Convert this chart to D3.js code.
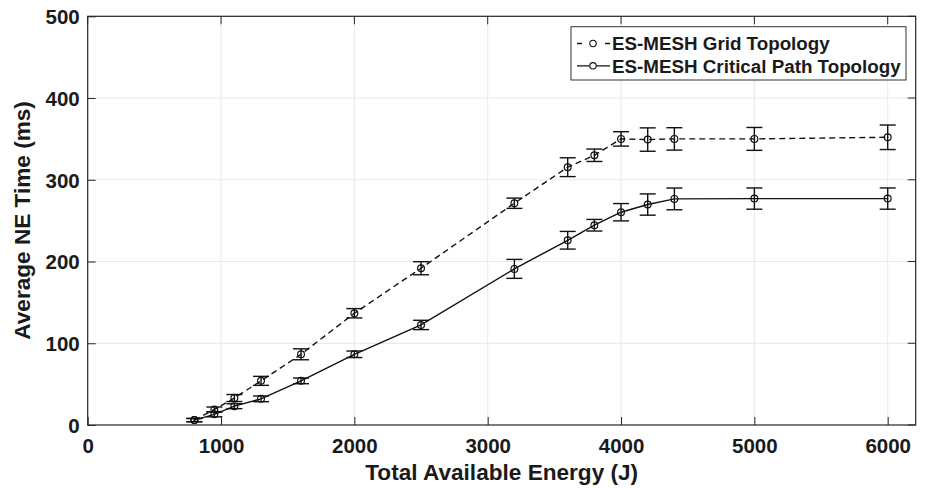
<!DOCTYPE html>
<html>
<head>
<meta charset="utf-8">
<script src="https://cdn.jsdelivr.net/npm/d3@7"></script>
<style>
  html, body { margin: 0; padding: 0; background: #fff; }
  svg { display: block; }
  text { font-family: "Liberation Sans", Arial, Helvetica, sans-serif; font-weight: bold; fill: #1a1a1a; }
</style>
</head>
<body>
<svg id="chart" width="925" height="488"></svg>
<script>
// Total available energy (J)
const energy = [800, 950, 1100, 1300, 1600, 2000, 2500, 3200, 3600, 3800, 4000, 4200, 4400, 5000, 6000];

// Average NE time (ms) and error half-widths per topology
const gridTime = [6, 19, 33, 54, 86.5, 136.7, 191.8, 271.3, 315.4, 330, 350, 349.2, 350, 350, 352];
const gridErr  = [2, 3, 4.3, 5.5, 6.7, 5.7, 8, 6.3, 11.5, 7.6, 8.8, 14.3, 13.7, 14, 15];
const critTime = [6, 13, 23, 32, 54, 86.5, 122.4, 191, 226, 244.4, 260.3, 269.7, 276.6, 277, 277];
const critErr  = [2, 3, 3, 3.5, 3.5, 4, 5.7, 11.6, 10.8, 7.1, 10.6, 13, 13.3, 13, 13];

const seriesNames = ["ES-MESH Grid Topology", "ES-MESH Critical Path Topology"];
const xTicks = [0, 1000, 2000, 3000, 4000, 5000, 6000];
const yTicks = [0, 100, 200, 300, 400, 500];

const svg = d3.select("#chart");
const m = { left: 87.7, right: 915.7, top: 16.3, bottom: 425 };

const x = d3.scaleLinear().domain([0, 6210]).range([m.left, m.right]);
const y = d3.scaleLinear().domain([0, 500]).range([m.bottom, m.top]);

const axisColor = "#262626";
const gridColor = "#e8e8e8";
const tickLen = 8;

// grid lines
const g = svg.append("g");
g.selectAll(".gx").data(xTicks.filter(d => d > 0)).join("line")
  .attr("x1", d => x(d)).attr("x2", d => x(d))
  .attr("y1", m.top).attr("y2", m.bottom)
  .attr("stroke", gridColor).attr("stroke-width", 1);
g.selectAll(".gy").data(yTicks.filter(d => d > 0 && d < 500)).join("line")
  .attr("x1", m.left).attr("x2", m.right)
  .attr("y1", d => y(d)).attr("y2", d => y(d))
  .attr("stroke", gridColor).attr("stroke-width", 1);

// axes: bottom and left with inward ticks
const xAxis = d3.axisBottom(x).tickValues(xTicks).tickSize(-tickLen).tickPadding(13).tickFormat(d3.format("d"));
const yAxis = d3.axisLeft(y).tickValues(yTicks).tickSize(-tickLen).tickPadding(8).tickFormat(d3.format("d"));

const gx = svg.append("g").attr("transform", `translate(0,${m.bottom})`).call(xAxis);
const gy = svg.append("g").attr("transform", `translate(${m.left},0)`).call(yAxis);
[gx, gy].forEach(a => {
  a.select(".domain").remove();
  a.selectAll(".tick line").attr("stroke", axisColor).attr("stroke-width", 1);
  a.selectAll(".tick text").attr("font-size", 20.5).attr("font-family", "Liberation Sans, Arial, sans-serif")
    .attr("font-weight", "bold").attr("fill", "#1a1a1a");
});
gy.selectAll(".tick text").attr("dy", "0.36em");

// top and right mirrored ticks
const tt = svg.append("g");
tt.selectAll("line.tx").data(xTicks).join("line")
  .attr("x1", d => x(d)).attr("x2", d => x(d))
  .attr("y1", m.top).attr("y2", m.top + tickLen)
  .attr("stroke", axisColor);
tt.selectAll("line.ty").data(yTicks).join("line")
  .attr("x1", m.right).attr("x2", m.right - tickLen)
  .attr("y1", d => y(d)).attr("y2", d => y(d))
  .attr("stroke", axisColor);

// frame
svg.append("rect")
  .attr("x", m.left).attr("y", m.top)
  .attr("width", m.right - m.left).attr("height", m.bottom - m.top)
  .attr("fill", "none").attr("stroke", axisColor).attr("stroke-width", 1.2);

// axis titles
svg.append("text")
  .attr("x", (m.left + m.right) / 2).attr("y", 480)
  .attr("text-anchor", "middle").attr("font-size", 22.6)
  .text("Total Available Energy (J)");
svg.append("text")
  .attr("transform", `translate(29.5,220.4) rotate(-90)`)
  .attr("text-anchor", "middle").attr("font-size", 22.6)
  .text("Average NE Time (ms)");

// series
const series = [
  { name: seriesNames[0], vals: gridTime, err: gridErr, dash: "6,4" },
  { name: seriesNames[1], vals: critTime, err: critErr, dash: null }
];

const line = d3.line().x(d => x(d.e)).y(d => y(d.v));
const capW = 8;

series.forEach(s => {
  const pts = energy.map((e, i) => ({ e, v: s.vals[i], err: s.err[i] }));
  const sg = svg.append("g");
  sg.append("path").datum(pts)
    .attr("d", line).attr("fill", "none")
    .attr("stroke", "#111").attr("stroke-width", 1.4)
    .attr("stroke-dasharray", s.dash);
  // error bars
  const eb = sg.selectAll("g.eb").data(pts).join("g");
  eb.append("line")
    .attr("x1", d => x(d.e)).attr("x2", d => x(d.e))
    .attr("y1", d => y(d.v - d.err)).attr("y2", d => y(d.v + d.err))
    .attr("stroke", "#111").attr("stroke-width", 1.4);
  eb.append("line")
    .attr("x1", d => x(d.e) - capW).attr("x2", d => x(d.e) + capW)
    .attr("y1", d => y(d.v - d.err)).attr("y2", d => y(d.v - d.err))
    .attr("stroke", "#111").attr("stroke-width", 1.4);
  eb.append("line")
    .attr("x1", d => x(d.e) - capW).attr("x2", d => x(d.e) + capW)
    .attr("y1", d => y(d.v + d.err)).attr("y2", d => y(d.v + d.err))
    .attr("stroke", "#111").attr("stroke-width", 1.4);
  // markers
  sg.selectAll("circle").data(pts).join("circle")
    .attr("cx", d => x(d.e)).attr("cy", d => y(d.v)).attr("r", 3.4)
    .attr("fill", "none").attr("stroke", "#111").attr("stroke-width", 1.2);
});

// legend
const lg = svg.append("g");
lg.append("rect")
  .attr("x", 571).attr("y", 26.7).attr("width", 335).attr("height", 53.3)
  .attr("fill", "#fff").attr("stroke", "#333").attr("stroke-width", 1);
series.forEach((s, i) => {
  const ly = 43.5 + i * 22.3;
  lg.append("line")
    .attr("x1", 577).attr("x2", 610).attr("y1", ly).attr("y2", ly)
    .attr("stroke", "#111").attr("stroke-width", 1.3)
    .attr("stroke-dasharray", s.dash ? "5,23" : null);
  lg.append("circle").attr("cx", 593).attr("cy", ly).attr("r", 3.2)
    .attr("fill", "#fff").attr("stroke", "#111").attr("stroke-width", 1.1);
  lg.append("text")
    .attr("x", 612).attr("y", ly).attr("dy", "0.36em")
    .attr("font-size", 18.8).text(s.name);
});
</script>
</body>
</html>
